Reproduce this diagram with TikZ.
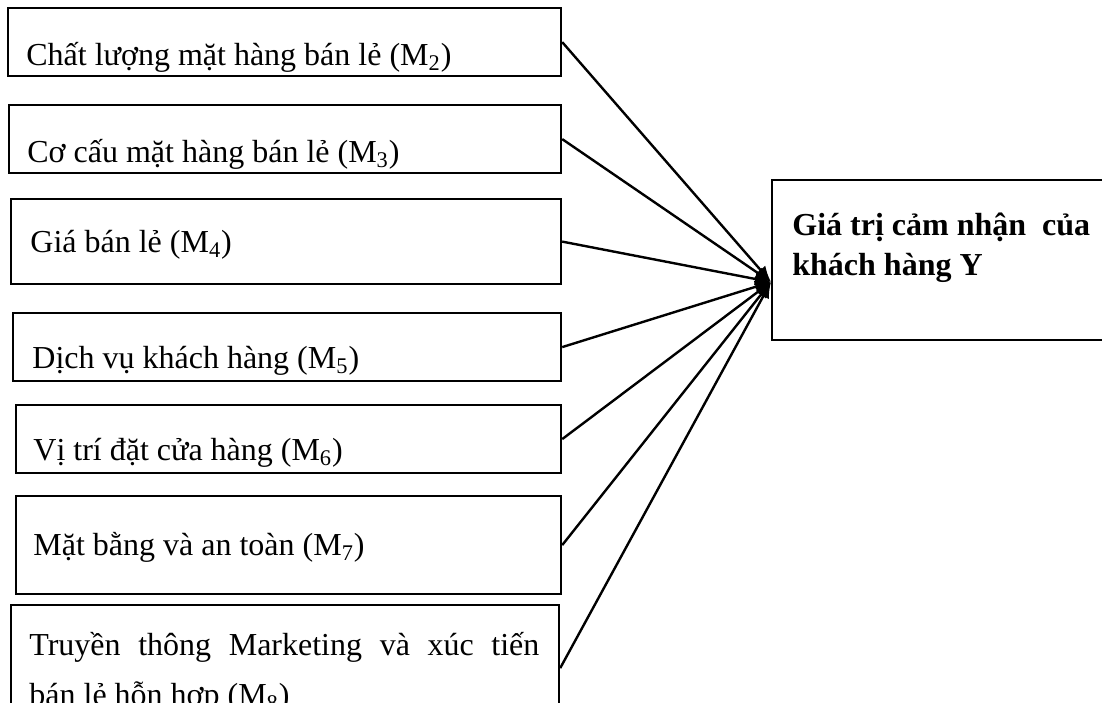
\documentclass[tikz,border=0pt]{standalone}
\usepackage{fontspec}
\setmainfont{Liberation Serif}
\usepackage{tikz}
\usetikzlibrary{arrows.meta, positioning, calc}

\tikzstyle{factor} = [rectangle, draw=black, line width=1.1pt, anchor=north west, inner sep=0pt]
\tikzstyle{lbl} = [anchor=base west, inner sep=0pt, font=\fontsize{16}{25}\selectfont]
\tikzstyle{arrow} = [line width=1.2pt, -{Latex[length=8pt,width=6.5pt]}]

\begin{document}
\begin{tikzpicture}[x=0.5pt, y=-0.5pt]
\useasboundingbox (0,0) rectangle (1102,702);
\clip (0,0) rectangle (1102,702);

% factor boxes (pixel coordinates, y down)
\node (m2) [factor, minimum width=276.5pt, minimum height=34pt] at (7,7) {};
\node (m3) [factor, minimum width=276pt, minimum height=34pt] at (8,104) {};
\node (m4) [factor, minimum width=275pt, minimum height=42.5pt] at (10,198) {};
\node (m5) [factor, minimum width=274pt, minimum height=34pt] at (12,312) {};
\node (m6) [factor, minimum width=272.5pt, minimum height=34pt] at (15,404) {};
\node (m7) [factor, minimum width=272.5pt, minimum height=49pt] at (15,495) {};
\node (m8) [factor, minimum width=274pt, minimum height=63pt] at (10,604) {};
\node (y) [factor, minimum width=177pt, minimum height=80pt] at (771,179) {};

% labels
\node (t2) [lbl] at (26,65) {Chất lượng mặt hàng bán lẻ (M\textsubscript{2})};
\node (t3) [lbl] at (27,162) {Cơ cấu mặt hàng bán lẻ (M\textsubscript{3})};
\node (t4) [lbl] at (30,252) {Giá bán lẻ (M\textsubscript{4})};
\node (t5) [lbl] at (32,368) {Dịch vụ khách hàng (M\textsubscript{5})};
\node (t6) [lbl] at (33,460) {Vị trí đặt cửa hàng (M\textsubscript{6})};
\node (t7) [lbl] at (33,555) {Mặt bằng và an toàn (M\textsubscript{7})};
\node (t8) [lbl, text width=255pt, align=justify] at (29,655) {Truyền thông Marketing và xúc tiến\linebreak bán lẻ hỗn hợp (M\textsubscript{8})};
\node (ty) [lbl, font=\fontsize{16}{20}\selectfont\bfseries, align=left] at (792,275) {Giá trị cảm nhận\ \ của\\khách hàng Y};

\coordinate (hub) at (771,282);

\draw [arrow] (m2.east) -- (hub);
\draw [arrow] (m3.east) -- (hub);
\draw [arrow] (m4.east) -- (hub);
\draw [arrow] (m5.east) -- (hub);
\draw [arrow] (m6.east) -- (hub);
\draw [arrow] (m7.east) -- (hub);
\draw [arrow] (m8.east) -- (hub);
\end{tikzpicture}
\end{document}
